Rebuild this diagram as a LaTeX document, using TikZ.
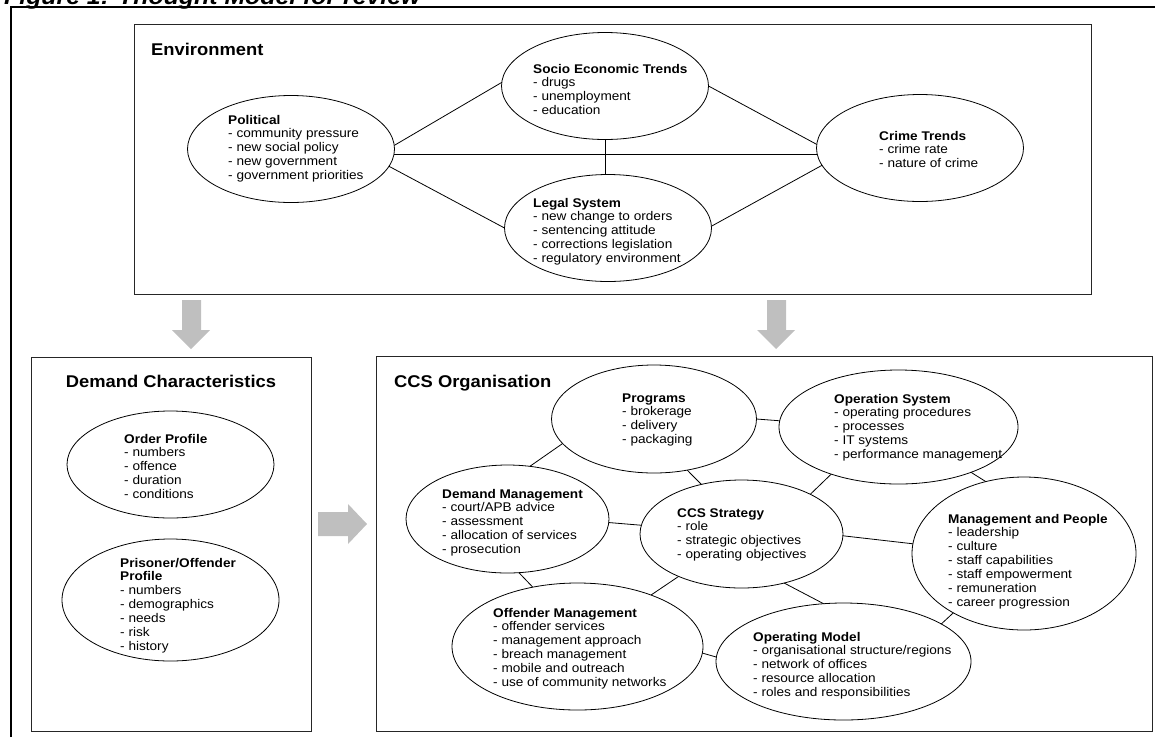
\documentclass[tikz,border=0pt]{standalone}
\usepackage{fontspec}
\setmainfont{Liberation Sans}[FakeStretch=1.08]
\usetikzlibrary{shapes.geometric}
\newcommand\bodyf{\fontsize{12.6}{13.9}\selectfont}
\newcommand\headf{\fontsize{17}{20}\selectfont\bfseries}
\newcommand\items[1]{\begin{tabular}[t]{@{}l@{}}#1\end{tabular}}
\begin{document}
\begin{tikzpicture}[x=1pt,y=-1pt,
  ell/.style={draw, ellipse, line width=0.8pt, inner sep=0pt, outer sep=0pt},
  txt/.style={anchor=base west, inner sep=0pt, font=\bodyf},
  hd/.style={anchor=base west, inner sep=0pt, font=\headf},
  conn/.style={line width=0.8pt},
  panel/.style={draw=black!85, line width=1.3pt, anchor=north west, inner sep=0pt},
  bigarrow/.style={fill=black!25, draw=none}]
\useasboundingbox (0,0) rectangle (1155,737);
% title and outer frame
\node[anchor=base west, inner sep=0pt, font=\fontsize{23}{27}\selectfont\bfseries\itshape] (title) at (4,4) {Figure 1: Thought Model for review};
\draw[line width=2pt] (11,737) -- (11,7) -- (1155,7);

% panels
\node[panel, minimum width=957pt, minimum height=270pt] (envbox) at (134,24) {};
\node[panel, minimum width=280pt, minimum height=374pt] (dembox) at (31,357) {};
\node[panel, minimum width=776pt, minimum height=375pt] (ccsbox) at (376,356) {};
\node[hd] (envlbl) at (151,55) {Environment};
\node[hd, anchor=base] (demlbl) at (171,387) {Demand Characteristics};
\node[hd] (ccslbl) at (394,387) {CCS Organisation};

% block arrows
\fill[bigarrow] (182,300) -- (201,300) -- (201,330) -- (210,330) -- (191,349) -- (172,330) -- (182,330) -- cycle;
\fill[bigarrow] (767,300) -- (786,300) -- (786,330) -- (795,330) -- (776,349) -- (757,330) -- (767,330) -- cycle;
\fill[bigarrow] (318,512) -- (348,512) -- (348,504) -- (367,524) -- (348,544) -- (348,536) -- (318,536) -- cycle;

% environment ellipses
\node[ell, minimum width=207pt, minimum height=107pt] (pol) at (291,149) {};
\node[ell, minimum width=207pt, minimum height=107pt] (soc) at (605,86) {};
\node[ell, minimum width=207pt, minimum height=107pt] (leg) at (608,228) {};
\node[ell, minimum width=207pt, minimum height=107pt] (cri) at (920,148) {};
\node[txt] (poltx) at (228,124) {\items{\textbf{Political}\\- community pressure\\- new social policy\\- new government\\- government priorities}};
\node[txt] (soctx) at (533,73) {\items{\textbf{Socio Economic Trends}\\- drugs\\- unemployment\\- education}};
\node[txt] (legtx) at (533,207) {\items{\textbf{Legal System}\\- new change to orders\\- sentencing attitude\\- corrections legislation\\- regulatory environment}};
\node[txt] (critx) at (879,140) {\items{\textbf{Crime Trends}\\- crime rate\\- nature of crime}};

\draw[conn] (pol.2.2) -- (soc.178.5);
\draw[conn] (pol.-10.1) -- (leg.180.8);
\draw[conn] (pol.-3.6) -- (pol.-3.6 -| cri.west);
\draw[conn] (soc.south) -- (soc.south |- leg.north);
\draw[conn] (soc.0.9) -- (cri.178.9);
\draw[conn] (leg.1) -- (cri.190.7);

% demand characteristics
\node[ell, minimum width=207pt, minimum height=107pt] (ord) at (170.5,464.5) {};
\node[ell, minimum width=217pt, minimum height=122pt] (pri) at (170.5,600) {};
\node[txt] (ordtx) at (124,443) {\items{\textbf{Order Profile}\\- numbers\\- offence\\- duration\\- conditions}};
\node[txt] (pritx) at (120,567) {\items{\textbf{Prisoner/Offender}\\\textbf{Profile}\\- numbers\\- demographics\\- needs\\- risk\\- history}};

% CCS organisation
\node[ell, minimum width=205pt, minimum height=108pt] (prg) at (654,419) {};
\node[ell, minimum width=239pt, minimum height=114pt] (ops) at (898.5,427) {};
\node[ell, minimum width=203pt, minimum height=108pt] (dmg) at (507.5,519) {};
\node[ell, minimum width=203pt, minimum height=108pt] (str) at (741.5,534) {};
\node[ell, minimum width=224pt, minimum height=153pt] (mgp) at (1024,553.5) {};
\node[ell, minimum width=251pt, minimum height=127pt] (ofm) at (577.5,646.5) {};
\node[ell, minimum width=255pt, minimum height=117pt] (opm) at (843.5,661.5) {};

\node[txt] (prgtx) at (622,402) {\items{\textbf{Programs}\\- brokerage\\- delivery\\- packaging}};
\node[txt] (opstx) at (834,403) {\items{\textbf{Operation System}\\- operating procedures\\- processes\\- IT systems\\- performance management}};
\node[txt] (dmgtx) at (442,498) {\items{\textbf{Demand Management}\\- court/APB advice\\- assessment\\- allocation of services\\- prosecution}};
\node[txt] (strtx) at (677,517) {\items{\textbf{CCS Strategy}\\- role\\- strategic objectives\\- operating objectives}};
\node[txt] (mgptx) at (948,523) {\items{\textbf{Management and People}\\- leadership\\- culture\\- staff capabilities\\- staff empowerment\\- remuneration\\- career progression}};
\node[txt] (ofmtx) at (493,617) {\items{\textbf{Offender Management}\\- offender services\\- management approach\\- breach management\\- mobile and outreach\\- use of community networks}};
\node[txt] (opmtx) at (753,641) {\items{\textbf{Operating Model}\\- organisational structure/regions\\- network of offices\\- resource allocation\\- roles and responsibilities}};

\draw[conn] (prg.0.6) -- (ops.177.1);
\draw[conn] (prg.195.4) -- (dmg.67.5);
\draw[conn] (prg.-57.3) -- (str.129.7);
\draw[conn] (dmg.-2.2) -- (str.175.4);
\draw[conn] (dmg.-78) -- (ofm.127.7);
\draw[conn] (str.214.1) -- (ofm.35.8);
\draw[conn] (str.30.5) -- (ops.215.3);
\draw[conn] (str.-1.7) -- (mgp.175.1);
\draw[conn] (str.-49.7) -- (opm.109.6);
\draw[conn] (ops.-32.4) -- (mgp.118.6);
\draw[conn] (ofm.-3.9) -- (opm.178.4);
\draw[conn] (mgp.220) -- (opm.21.4);
\end{tikzpicture}
\end{document}
